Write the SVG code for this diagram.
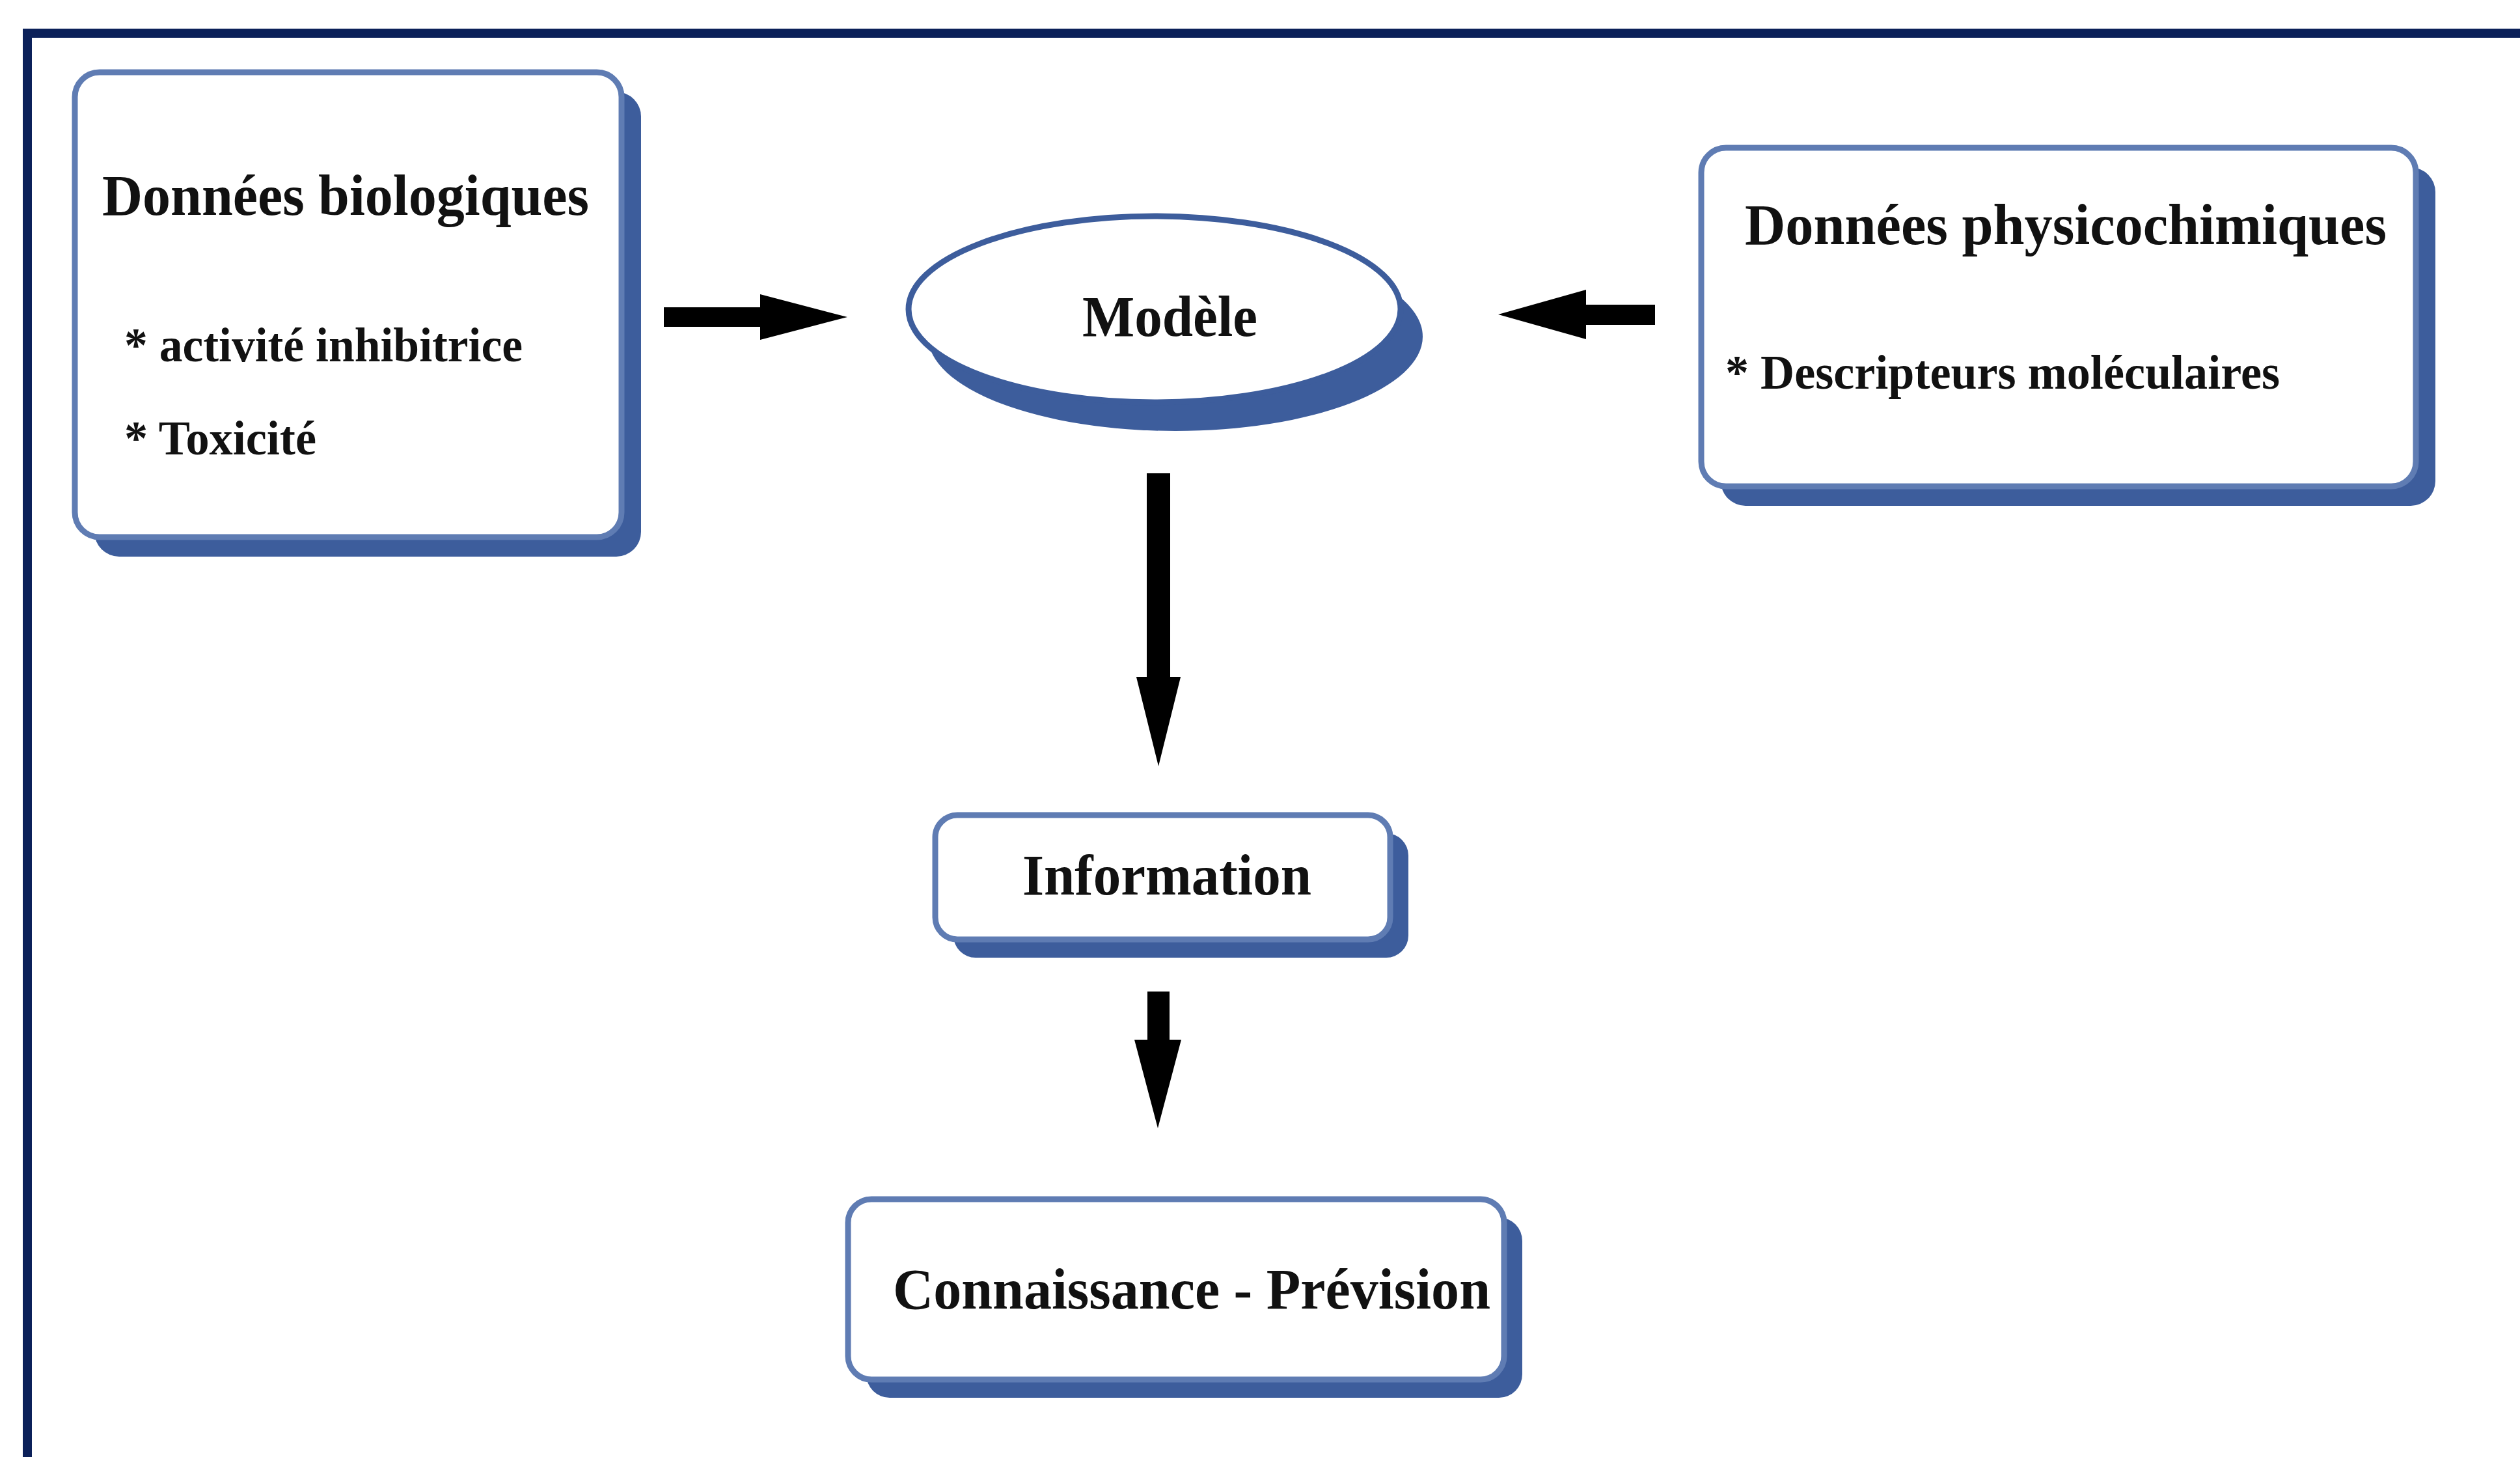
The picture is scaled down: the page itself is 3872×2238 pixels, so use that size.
<svg xmlns="http://www.w3.org/2000/svg" width="3872" height="2238" viewBox="0 0 3872 2238">
<style>
.frame{fill:none;stroke:#0b2059;stroke-width:14}
.box{fill:#ffffff;stroke:#5f7cb3;stroke-width:9}
.shadow{fill:#3d5d9c}
.t{font-family:"Liberation Serif","Times New Roman",serif;font-weight:bold;fill:#111111}
.title{font-size:88px}
.item{font-size:74px}
.arrow{fill:#000000}
</style>
<rect width="3872" height="2238" fill="#ffffff"/>
<path class="frame" d="M42,2238 V51 H3872"/>

<g id="node-biologiques">
<rect class="shadow" x="145" y="141" width="840" height="714" rx="38"/>
<rect class="box" x="115" y="111" width="840" height="714" rx="38"/>
<text class="t title" x="157" y="330" textLength="748" lengthAdjust="spacingAndGlyphs">Données biologiques</text>
<text class="t item" x="191" y="555" textLength="612" lengthAdjust="spacingAndGlyphs">* activité inhibitrice</text>
<text class="t item" x="191" y="698" textLength="295" lengthAdjust="spacingAndGlyphs">* Toxicité</text>
</g>

<g id="node-modele">
<ellipse class="shadow" cx="1806" cy="517" rx="380" ry="145"/>
<ellipse cx="1774" cy="475" rx="378" ry="143" fill="#ffffff" stroke="#3d5d9c" stroke-width="9"/>
<text class="t title" x="1663" y="516" textLength="269" lengthAdjust="spacingAndGlyphs">Modèle</text>
</g>

<g id="node-physicochimiques">
<rect class="shadow" x="2644" y="257" width="1098" height="520" rx="38"/>
<rect class="box" x="2614" y="227" width="1098" height="520" rx="38"/>
<text class="t title" x="2681" y="375" textLength="986" lengthAdjust="spacingAndGlyphs">Données physicochimiques</text>
<text class="t item" x="2651" y="597" textLength="852" lengthAdjust="spacingAndGlyphs">* Descripteurs moléculaires</text>
</g>

<g id="node-information">
<rect class="shadow" x="1465" y="1280" width="699" height="191" rx="34"/>
<rect class="box" x="1437" y="1252" width="699" height="191" rx="34"/>
<text class="t title" x="1571" y="1374" textLength="444" lengthAdjust="spacingAndGlyphs">Information</text>
</g>

<g id="node-connaissance">
<rect class="shadow" x="1331" y="1870" width="1008" height="277" rx="36"/>
<rect class="box" x="1303" y="1842" width="1008" height="277" rx="36"/>
<text class="t title" x="1372" y="2010" textLength="918" lengthAdjust="spacingAndGlyphs">Connaissance - Prévision</text>
</g>

<g id="connectors">
<polygon class="arrow" points="1020,472 1168,472 1168,452 1302,487 1168,522 1168,502 1020,502"/>
<polygon class="arrow" points="2543,468 2437,468 2437,445 2302,483 2437,521 2437,499 2543,499"/>
<polygon class="arrow" points="1762,727 1798,727 1798,1040 1814,1040 1780,1177 1746,1040 1762,1040"/>
<polygon class="arrow" points="1763,1523 1797,1523 1797,1597 1815,1597 1779,1733 1743,1597 1763,1597"/>
</g>
</svg>
